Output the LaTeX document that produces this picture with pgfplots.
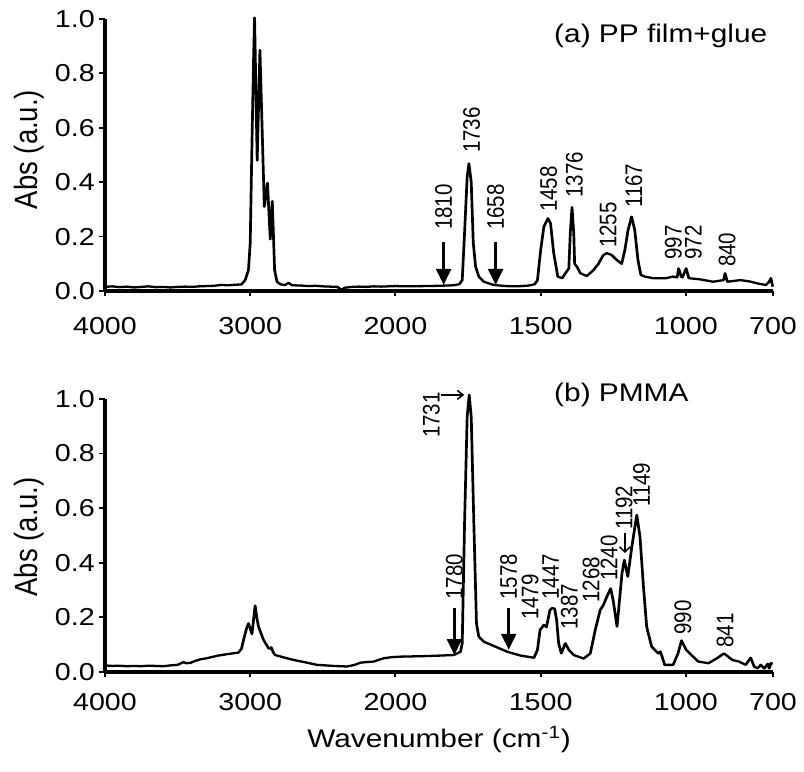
\documentclass[border=0pt]{standalone}
\usepackage{fontspec}
\setmainfont{Liberation Sans}
\usepackage{graphicx}
\usepackage{pgfplots}
\pgfplotsset{compat=1.18}
\usetikzlibrary{arrows.meta}

% split wavenumber scale: 4000-2000 at 1 unit/1000, 2000-700 at 1 unit/500
\pgfplotsset{
  ftir/.style={
    scale only axis, width=570.94pt, height=272pt,
    xmin=4000, xmax=700, ymin=0, ymax=1,
    x coord trafo/.code={\pgfmathparse{(##1>=2000)*(4000-##1)/1000+(##1<2000)*(2+(2000-##1)/500)}},
    axis lines=left, axis line style={-, line width=3.3pt},
    tick align=outside, major tick length=5pt,
    tick style={black, line width=1.8pt},
    xtick={4000,3000,2000,1500,1000,700},
    xticklabels={4000,3000,2000,1500,1000,700},
    ytick={0,0.2,0.4,0.6,0.8,1},
    yticklabel style={/pgf/number format/fixed,/pgf/number format/fixed zerofill,/pgf/number format/precision=1,
      anchor=east, inner sep=0pt, xshift=-3.6pt},
    tick label style={font=\fontsize{24.5}{28}\selectfont},
    /pgf/number format/assume math mode=true,
    label style={font=\fontsize{25.5}{30}\selectfont},
    ylabel style={font=\fontsize{27.5}{32}\selectfont},
    clip=false,
  },
}
\tikzset{
  spec/.style={black, line width=2.3pt, line join=round, mark=none},
  ann/.style={rotate=90, anchor=west, inner sep=0pt, font=\fontsize{20.5}{24}\selectfont},
  bigarr/.style={-{Triangle[width=12.6pt,length=16pt]}, line width=2.4pt},
  smallarr/.style={-{Straight Barb[length=5pt,width=9pt]}, line width=1.4pt},
  ttl/.style={anchor=base west, inner sep=0pt, font=\fontsize{25.5}{30}\selectfont},
}

\begin{document}
\resizebox{804pt}{772pt}{%
\begin{tikzpicture}
\path[use as bounding box] (0,0) rectangle (687.18pt,772pt);

% (a) PP film + glue
\begin{axis}[ftir, at={(89.74pt,481pt)}, anchor=south west,
  xticklabel style={anchor=north, inner sep=0pt, yshift=-21pt},
  ylabel={Abs (a.u.)}, ylabel style={at={(axis description cs:-0.1013,0.52)}, anchor=base}]
\addplot[spec] coordinates {
(4000,0.015) (3950,0.017) (3900,0.014) (3850,0.016) (3800,0.013) (3750,0.015)
(3700,0.017) (3650,0.014) (3600,0.015) (3550,0.013) (3500,0.015) (3450,0.016)
(3400,0.015) (3350,0.017) (3300,0.018) (3250,0.019) (3200,0.022) (3150,0.021)
(3100,0.023) (3060,0.024) (3035,0.040) (3012,0.077) (3000,0.176) (2988,0.540)
(2977,0.850) (2970,1.005) (2952,0.480) (2933,0.886) (2903,0.310) (2881,0.397)
(2862,0.190) (2848,0.330) (2832,0.077) (2816,0.034) (2790,0.024) (2760,0.022)
(2736,0.030) (2712,0.021) (2650,0.020) (2600,0.018) (2550,0.019) (2500,0.017)
(2450,0.016) (2400,0.015) (2370,0.004) (2350,0.012) (2300,0.015) (2250,0.016)
(2200,0.015) (2150,0.017) (2100,0.016) (2050,0.017) (2000,0.018) (1950,0.017)
(1900,0.018) (1850,0.019) (1800,0.021) (1780,0.025) (1770,0.040) (1762,0.213)
(1753,0.420) (1747,0.469) (1739,0.400) (1732,0.176) (1724,0.090) (1713,0.053)
(1696,0.034) (1661,0.022) (1620,0.018) (1580,0.017) (1540,0.020) (1520,0.025)
(1511,0.040) (1500,0.150) (1489,0.236) (1475,0.267) (1466,0.249) (1455,0.139)
(1441,0.053) (1426,0.047) (1411,0.071) (1403,0.083) (1398,0.213) (1392,0.308)
(1386,0.212) (1383,0.100) (1375,0.089) (1363,0.065) (1341,0.055) (1318,0.077)
(1301,0.100) (1284,0.132) (1272,0.139) (1255,0.132) (1238,0.114) (1221,0.100)
(1210,0.151) (1199,0.224) (1187,0.273) (1176,0.224) (1165,0.114) (1155,0.059)
(1142,0.053) (1113,0.047) (1068,0.047) (1045,0.053) (1030,0.050) (1025,0.083)
(1016,0.053) (1012,0.050) (999,0.083) (990,0.047) (953,0.043) (906,0.034)
(870,0.040) (865,0.065) (857,0.034) (812,0.040) (780,0.035) (754,0.028)
(725,0.022) (713,0.034) (707,0.047) (701,0.016)
};
\node[ann] at (axis cs:1834,0.224) {1810};
\draw[bigarr] (axis cs:1834,0.181) -- (axis cs:1834,0.022);
\node[ann] at (axis cs:1738,0.507) {1736};
\node[ann] at (axis cs:1655,0.224) {1658};
\draw[bigarr] (axis cs:1655,0.181) -- (axis cs:1655,0.022);
\node[ann] at (axis cs:1473,0.290) {1458};
\node[ann] at (axis cs:1384,0.342) {1376};
\node[ann] at (axis cs:1268,0.158) {1255};
\node[ann] at (axis cs:1179,0.305) {1167};
\node[ann] at (axis cs:1043,0.114) {997};
\node[ann] at (axis cs:974,0.114) {972};
\node[ann] at (axis cs:858,0.088) {840};
\end{axis}
\node[ttl] at (473.5pt,729pt) {(a) PP film+glue};

% (b) PMMA
\begin{axis}[ftir, at={(89.74pt,100pt)}, anchor=south west, height=273pt,
  xticklabel style={anchor=north, inner sep=0pt, yshift=-16pt},
  ylabel={Abs (a.u.)}, ylabel style={at={(axis description cs:-0.1013,0.495)}, anchor=base},
  xlabel={Wavenumber (cm\textsuperscript{-1})}, xlabel style={at={(axis description cs:0.5,-0.2784)}, anchor=base}]
\addplot[spec] coordinates {
(4000,0.024) (3950,0.022) (3900,0.023) (3850,0.021) (3800,0.022) (3750,0.021)
(3700,0.023) (3650,0.022) (3600,0.021) (3550,0.024) (3500,0.026) (3460,0.036)
(3440,0.032) (3414,0.033) (3380,0.040) (3345,0.046) (3300,0.050) (3230,0.059)
(3161,0.065) (3120,0.068) (3081,0.071) (3060,0.085) (3046,0.117) (3025,0.160)
(3012,0.178) (2988,0.139) (2966,0.243) (2955,0.200) (2943,0.166) (2908,0.117)
(2874,0.087) (2862,0.085) (2855,0.090) (2840,0.070) (2828,0.062) (2760,0.052)
(2701,0.044) (2609,0.034) (2540,0.026) (2480,0.024) (2425,0.022) (2333,0.020)
(2280,0.026) (2241,0.034) (2200,0.036) (2150,0.038) (2100,0.047) (2081,0.050)
(2030,0.054) (1983,0.056) (1900,0.058) (1845,0.060) (1799,0.062) (1776,0.074)
(1770,0.105) (1762,0.545) (1753,0.935) (1746,1.015) (1739,0.935) (1730,0.545)
(1721,0.178) (1713,0.129) (1696,0.111) (1661,0.095) (1615,0.074) (1569,0.060)
(1523,0.052) (1511,0.081) (1502,0.154) (1489,0.172) (1480,0.164) (1468,0.227)
(1460,0.234) (1452,0.232) (1445,0.190) (1438,0.105) (1429,0.068) (1415,0.105)
(1403,0.081) (1386,0.062) (1352,0.049) (1329,0.068) (1312,0.154) (1295,0.227)
(1284,0.245) (1272,0.276) (1259,0.306) (1250,0.260) (1237,0.166) (1220,0.361)
(1212,0.410) (1200,0.349) (1186,0.459) (1169,0.575) (1158,0.496) (1146,0.312)
(1135,0.166) (1118,0.093) (1095,0.068) (1088,0.075) (1080,0.050) (1073,0.026)
(1044,0.026) (1027,0.068) (1015,0.115) (999,0.081) (981,0.062) (957,0.038)
(922,0.032) (893,0.050) (869,0.068) (840,0.044) (817,0.038) (794,0.026)
(777,0.052) (765,0.020) (753,0.013) (742,0.026) (730,0.013) (718,0.030)
(713,0.013) (707,0.032) (701,0.030)
};
\node[ann] at (axis cs:1876,0.857) {1731};
\draw[smallarr] (axis cs:1844,1.015) -- (axis cs:1763,1.015);
\node[ann] at (axis cs:1797,0.264) {1780};
\draw[bigarr] (axis cs:1797,0.234) -- (axis cs:1797,0.062);
\node[ann] at (axis cs:1610,0.264) {1578};
\draw[bigarr] (axis cs:1610,0.234) -- (axis cs:1610,0.081);
\node[ann] at (axis cs:1536,0.190) {1479};
\node[ann] at (axis cs:1466,0.264) {1447};
\node[ann] at (axis cs:1401,0.154) {1387};
\node[ann] at (axis cs:1326,0.253) {1268};
\node[ann] at (axis cs:1264,0.333) {1240};
\node[ann] at (axis cs:1213,0.520) {1192};
\draw[smallarr] (axis cs:1210,0.509) -- (axis cs:1210,0.436);
\node[ann] at (axis cs:1152,0.604) {1149};
\node[ann] at (axis cs:1010,0.136) {990};
\node[ann] at (axis cs:865,0.088) {841};
\end{axis}
\node[ttl] at (473.5pt,370.3pt) {(b) PMMA};
\end{tikzpicture}%
}
\end{document}
